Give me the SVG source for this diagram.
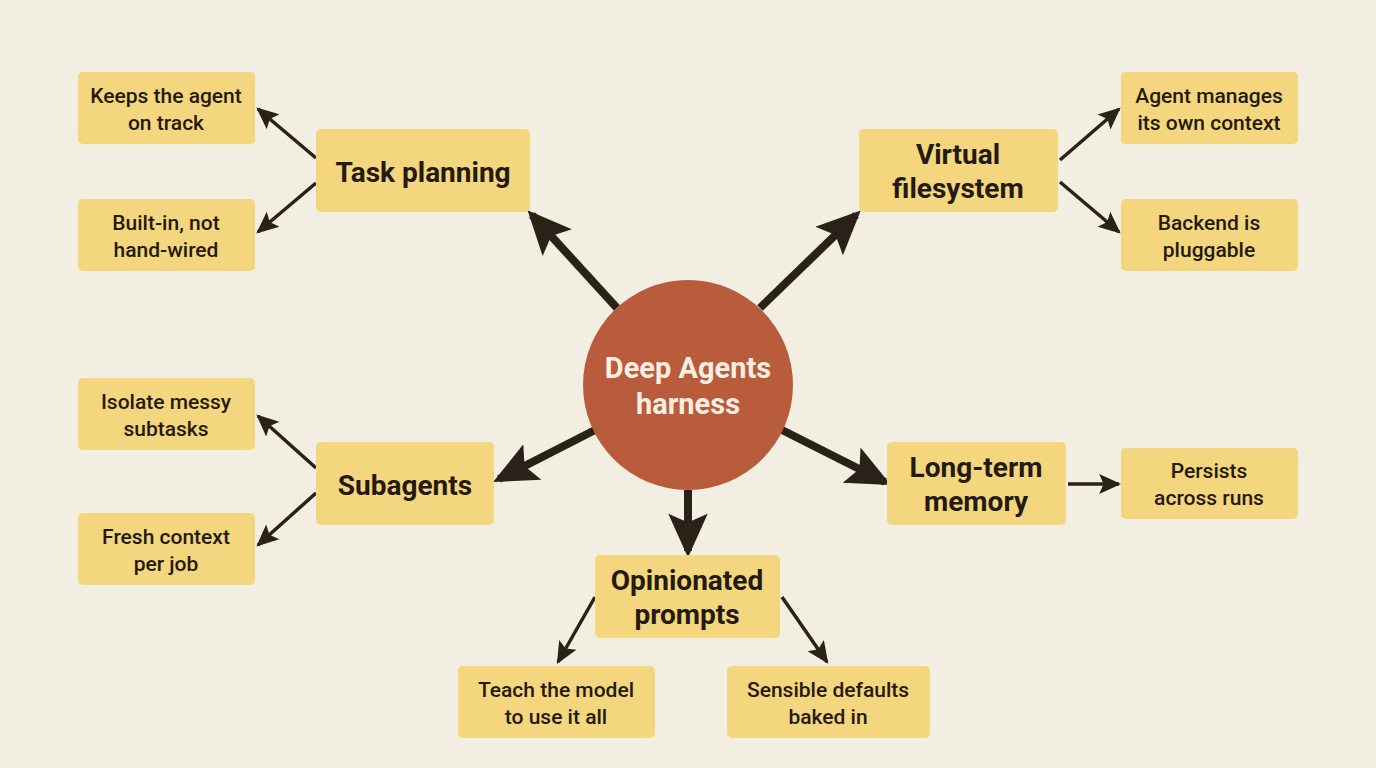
<svg xmlns="http://www.w3.org/2000/svg" width="1376" height="768" viewBox="0 0 1376 768">
<style>
.main rect{fill:#f3d67d;}
.leaf rect{fill:#f3d67d;}
text{font-family:Roboto,"Liberation Sans",sans-serif;fill:#241a12;text-anchor:middle;}
.main text{font-size:28px;font-weight:bold;}
.leaf text{font-size:21px;font-weight:500;}
.big{stroke:#2a2118;stroke-width:8;fill:none;marker-end:url(#hb);}
.sm{stroke:#2a2118;stroke-width:3.5;fill:none;marker-end:url(#hs);}
</style>
<defs>
<marker id="hb" markerUnits="userSpaceOnUse" markerWidth="44" markerHeight="44" viewBox="0 0 40 40" refX="34" refY="20" orient="auto"><path d="M0,2 L40,20 L0,38 L8,20 Z" fill="#2a2118"/></marker>
<marker id="hs" markerUnits="userSpaceOnUse" markerWidth="22" markerHeight="22" viewBox="0 0 20 20" refX="18" refY="10" orient="auto"><path d="M0,1 L20,10 L0,19 L4,10 Z" fill="#2a2118"/></marker>
</defs>
<rect width="1376" height="768" fill="#f2eee2"/>
<g id="connectors">
<line class="big" x1="617" y1="308" x2="532" y2="215"/>
<line class="big" x1="760" y1="308" x2="856" y2="215"/>
<line class="big" x1="595" y1="430" x2="499" y2="479"/>
<line class="big" x1="782" y1="430" x2="885" y2="482"/>
<line class="big" x1="688" y1="490" x2="688" y2="551"/>
<line class="sm" x1="316" y1="158" x2="258" y2="109"/>
<line class="sm" x1="316" y1="183" x2="258" y2="232"/>
<line class="sm" x1="1060" y1="160" x2="1119" y2="109"/>
<line class="sm" x1="1060" y1="182" x2="1119" y2="232"/>
<line class="sm" x1="316" y1="468" x2="258" y2="416"/>
<line class="sm" x1="316" y1="493" x2="258" y2="545"/>
<line class="sm" x1="1068" y1="484" x2="1119" y2="484"/>
<line class="sm" x1="595" y1="597" x2="558" y2="662"/>
<line class="sm" x1="782" y1="597" x2="827" y2="662"/>
</g>
<g id="center"><circle cx="688" cy="385" r="105" fill="#b95c3b"/>
<text x="688" y="378" style="font-size:29px;font-weight:bold;fill:#fbefe4">Deep Agents</text>
<text x="688" y="414" style="font-size:29px;font-weight:bold;fill:#fbefe4">harness</text></g>
<g id="task" class="main"><rect x="316" y="129" width="214" height="83" rx="5"/><text x="423" y="182">Task planning</text></g>
<g id="vfs" class="main"><rect x="859" y="129" width="199" height="83" rx="5"/><text x="958" y="164">Virtual</text><text x="958" y="198">filesystem</text></g>
<g id="sub" class="main"><rect x="316" y="442" width="178" height="83" rx="5"/><text x="405" y="495">Subagents</text></g>
<g id="ltm" class="main"><rect x="887" y="442" width="179" height="83" rx="5"/><text x="976" y="477">Long-term</text><text x="976" y="511">memory</text></g>
<g id="op" class="main"><rect x="595" y="555" width="185" height="83" rx="5"/><text x="687" y="590">Opinionated</text><text x="687" y="624">prompts</text></g>
<g id="l1" class="leaf"><rect x="78" y="72" width="177" height="72" rx="5"/><text x="166" y="103">Keeps the agent</text><text x="166" y="130">on track</text></g>
<g id="l2" class="leaf"><rect x="78" y="199" width="177" height="72" rx="5"/><text x="166" y="230">Built-in, not</text><text x="166" y="257">hand-wired</text></g>
<g id="l3" class="leaf"><rect x="1121" y="72" width="177" height="72" rx="5"/><text x="1209" y="103">Agent manages</text><text x="1209" y="130">its own context</text></g>
<g id="l4" class="leaf"><rect x="1121" y="199" width="177" height="72" rx="5"/><text x="1209" y="230">Backend is</text><text x="1209" y="257">pluggable</text></g>
<g id="l5" class="leaf"><rect x="78" y="378" width="177" height="72" rx="5"/><text x="166" y="409">Isolate messy</text><text x="166" y="436">subtasks</text></g>
<g id="l6" class="leaf"><rect x="78" y="513" width="177" height="72" rx="5"/><text x="166" y="544">Fresh context</text><text x="166" y="571">per job</text></g>
<g id="l7" class="leaf"><rect x="1121" y="448" width="177" height="71" rx="5"/><text x="1209" y="478">Persists</text><text x="1209" y="505">across runs</text></g>
<g id="l8" class="leaf"><rect x="458" y="666" width="197" height="72" rx="5"/><text x="556" y="697">Teach the model</text><text x="556" y="724">to use it all</text></g>
<g id="l9" class="leaf"><rect x="727" y="666" width="203" height="72" rx="5"/><text x="828" y="697">Sensible defaults</text><text x="828" y="724">baked in</text></g>
</svg>
